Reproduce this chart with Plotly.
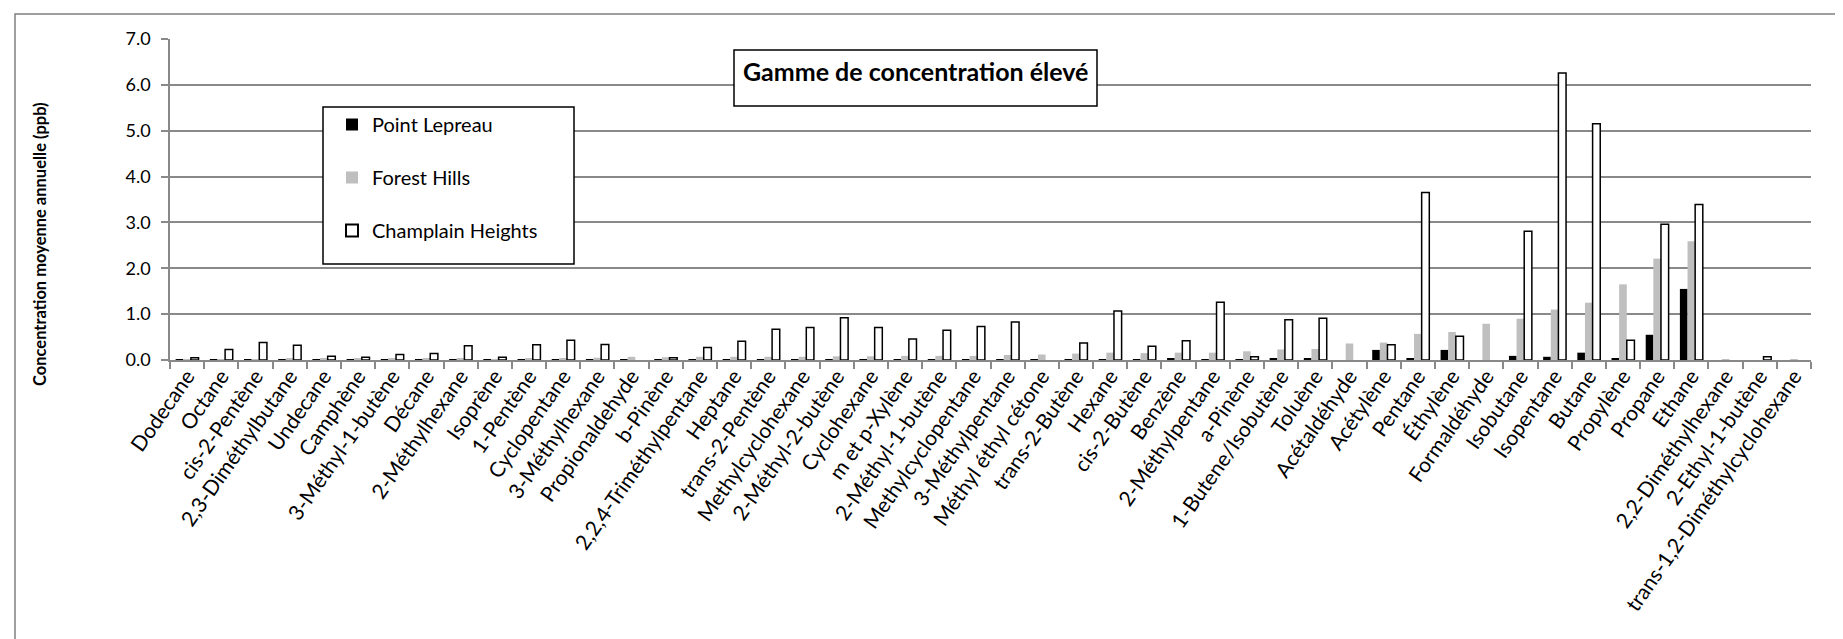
import plotly.graph_objects as go

categories = ["Dodecane", "Octane", "cis-2-Pentène", "2,3-Diméthylbutane", "Undecane", "Camphène",
              "3-Méthyl-1-butène", "Décane", "2-Méthylhexane", "Isoprène", "1-Pentène", "Cyclopentane",
              "3-Méthylhexane", "Propionaldehyde", "b-Pinène", "2,2,4-Triméthylpentane", "Heptane",
              "trans-2-Pentène", "Methylcyclohexane", "2-Méthyl-2-butène", "Cyclohexane", "m et p-Xylène",
              "2-Méthyl-1-butène", "Methylcyclopentane", "3-Méthylpentane", "Méthyl éthyl cétone",
              "trans-2-Butène", "Hexane", "cis-2-Butène", "Benzène", "2-Méthylpentane", "a-Pinène",
              "1-Butene/Isobutène", "Toluène", "Acétaldéhyde", "Acétylène", "Pentane", "Éthylène",
              "Formaldéhyde", "Isobutane", "Isopentane", "Butane", "Propylène", "Propane", "Ethane",
              "2,2-Diméthylhexane", "2-Ethyl-1-butène", "trans-1,2-Diméthylcyclohexane"]

point_lepreau = [0.005, 0.005, 0.005, 0.005, 0.005, 0.005, 0.005, 0.005, 0.005, 0.005, 0.005, 0.005,
                 0.005, 0.005, 0.005, 0.005, 0.005, 0.005, 0.005, 0.005, 0.005, 0.005, 0.005, 0.005,
                 0.005, 0.005, 0.005, 0.005, 0.005, 0.04, 0.01, 0.01, 0.03, 0.03, None, 0.22, 0.04, 0.22,
                 None, 0.09, 0.07, 0.16, 0.04, 0.55, 1.55, None, None, None]

forest_hills = [0.01, 0.02, 0.02, 0.03, 0.03, 0.03, 0.03, 0.04, 0.04, 0.02, 0.03, 0.04, 0.05, 0.07,
                0.06, 0.07, 0.07, 0.07, 0.07, 0.08, 0.08, 0.09, 0.09, 0.09, 0.11, 0.12, 0.14, 0.16,
                0.15, 0.16, 0.16, 0.19, 0.23, 0.24, 0.36, 0.38, 0.57, 0.61, 0.79, 0.90, 1.10, 1.25,
                1.65, 2.21, 2.59, 0.005, None, 0.005]

champlain_heights = [0.05, 0.23, 0.38, 0.32, 0.08, 0.06, 0.12, 0.14, 0.31, 0.06, 0.33, 0.43, 0.34,
                     None, 0.05, 0.27, 0.41, 0.67, 0.71, 0.92, 0.71, 0.46, 0.65, 0.73, 0.83, None,
                     0.37, 1.07, 0.30, 0.42, 1.26, 0.07, 0.88, 0.91, None, 0.33, 3.65, 0.52, None,
                     2.81, 6.26, 5.15, 0.43, 2.96, 3.39, None, 0.07, None]

series_names = ["Point Lepreau", "Forest Hills", "Champlain Heights"]

FONT = "Lato"
GRID = "#898989"

fig = go.Figure()
fig.add_trace(go.Bar(x=categories, y=point_lepreau, name=series_names[0], legendgroup="a",
                     marker=dict(color="#000000", line=dict(color="#000000", width=0))))
fig.add_trace(go.Bar(x=categories, y=forest_hills, name=series_names[1], legendgroup="b",
                     marker=dict(color="#BFBFBF", line=dict(color="#BFBFBF", width=0))))
fig.add_trace(go.Bar(x=categories, y=champlain_heights, name=series_names[2], legendgroup="c",
                     marker=dict(color="#FFFFFF", line=dict(color="#000000", width=1.5))))

W, H = 1843, 639
L, R, T, B = 162, 40, 31, 287
pw, ph = W - L - R, H - T - B


def px(x):
    return (x - L) / pw


def py(y):
    return (H - B - y) / ph


fig.update_layout(
    width=W, height=H,
    margin=dict(l=L, r=R, t=T, b=B, pad=0),
    paper_bgcolor="white", plot_bgcolor="white",
    barmode="group", bargap=0.33, bargroupgap=0,
    font=dict(family=FONT, color="#000000"),
    showlegend=True,
    legend=dict(x=px(324), y=py(97), xanchor="left", yanchor="top",
                bgcolor="rgba(0,0,0,0)", borderwidth=0,
                font=dict(family=FONT, size=20, color="#000000"),
                tracegroupgap=24, traceorder="grouped", itemsizing="constant"),
    xaxis=dict(type="category", tickangle=-55, tickson="boundaries", ticks="outside",
               ticklen=7, tickcolor=GRID, tickwidth=1.5, showline=True, linecolor=GRID,
               linewidth=1.5, showgrid=False, tickfont=dict(family=FONT, size=21, color="#000000"),
               ticklabelstandoff=-6, automargin=False),
    yaxis=dict(range=[0, 7], dtick=1, tickformat=".1f", ticks="outside", ticklen=7,
               tickcolor=GRID, tickwidth=1.5, showline=True, linecolor=GRID, linewidth=1.5,
               showgrid=True, gridcolor=GRID, gridwidth=1.5, zeroline=False,
               tickfont=dict(family=FONT, size=18, color="#000000"), ticklabelstandoff=7,
               automargin=False),
    shapes=[
        dict(type="rect", xref="paper", yref="paper", x0=px(7), x1=px(1832), y0=py(645), y1=py(6),
             line=dict(color="#808080", width=1.5), fillcolor="rgba(0,0,0,0)", layer="below"),
        dict(type="rect", xref="paper", yref="paper", x0=px(315), x1=px(566), y0=py(256), y1=py(99),
             line=dict(color="#000000", width=1.5), fillcolor="white", layer="above"),
        dict(type="rect", xref="paper", yref="paper", x0=px(726), x1=px(1089), y0=py(98), y1=py(42),
             line=dict(color="#000000", width=1.5), fillcolor="white", layer="above"),
    ],
    annotations=[
        dict(text="<b>Gamme de concentration élevé</b>", xref="paper", yref="paper",
             x=px(907.5), y=py(63), xanchor="center", yanchor="middle", showarrow=False,
             align="center", font=dict(family=FONT, size=25, color="#000000")),
        dict(text="<b>Concentration moyenne annuelle (ppb)</b>", xref="paper", yref="paper",
             x=px(32), y=py(236), xanchor="center", yanchor="middle", showarrow=False,
             textangle=-90, font=dict(family=FONT, size=16.5, color="#000000")),
    ],
)

fig.write_html("out.html")
